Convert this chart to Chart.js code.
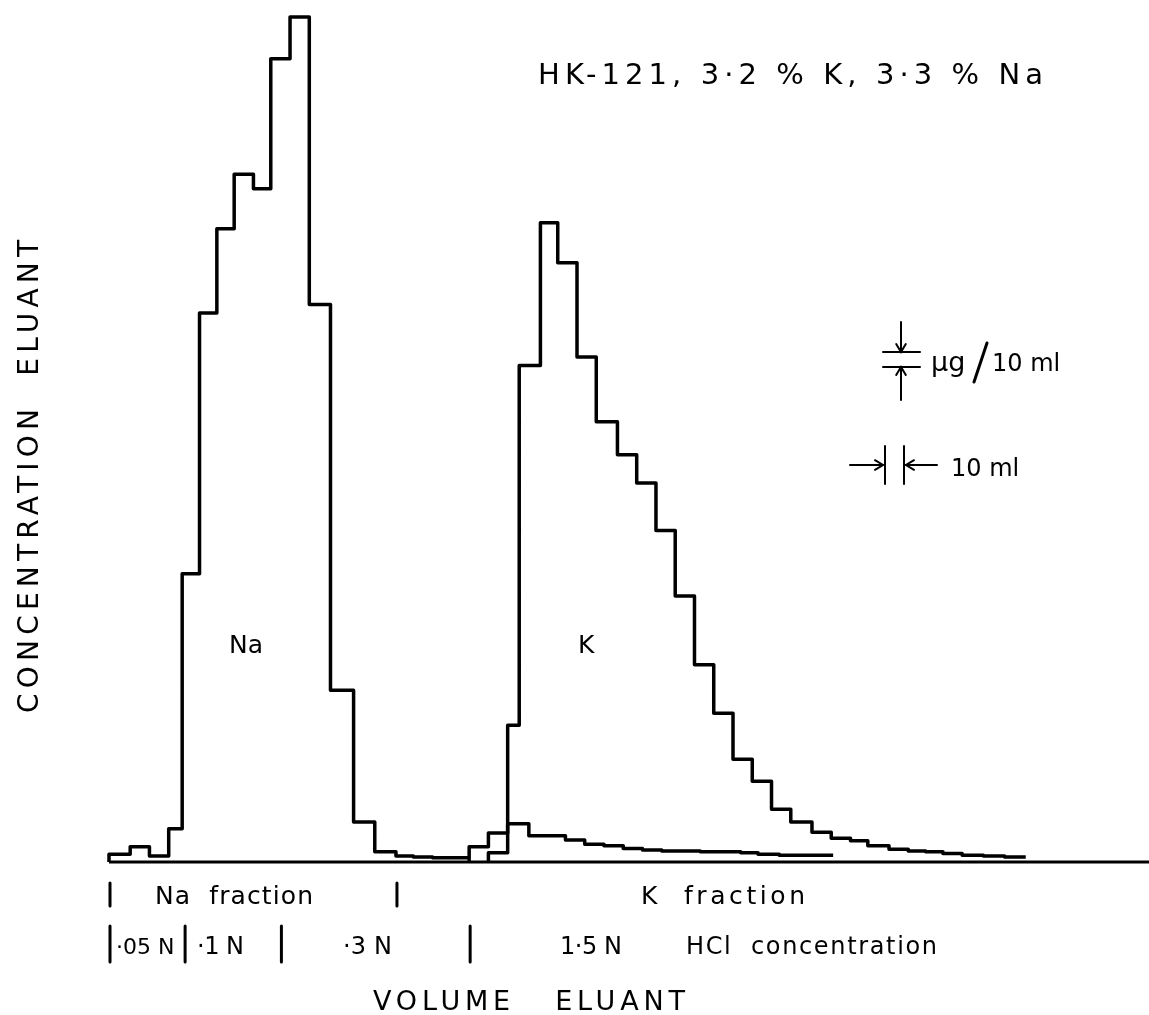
<!DOCTYPE html>
<html>
<head>
<meta charset="utf-8">
<script src="https://cdn.jsdelivr.net/npm/chart.js@4.4.1/dist/chart.umd.min.js"></script>
<style>
  html, body { margin: 0; padding: 0; background: #fff; }
  canvas { display: block; }
</style>
</head>
<body>
<canvas id="elution" width="1149" height="1015"></canvas>
<script>
// Fraction boundaries (ml of eluant) and concentration of each fraction
const naEdges = [0, 11, 21, 31, 38, 47, 56, 65, 75, 84, 94, 104, 115, 127, 138, 149, 158, 168, 178, 187];
const naLevels = [0.9, 1.8, 0.7, 3.9, 33.9, 64.6, 74.5, 80.9, 79.2, 94.5, 99.4, 65.6, 20.2, 4.7, 1.2, 0.7, 0.6, 0.5, 0.5];

const kEdges = [187, 197, 207, 213, 224, 233, 243, 253, 264, 274, 284, 294, 304, 314, 324,
  334, 344, 354, 365, 375, 385, 394, 405, 415, 424, 433, 443, 454, 465, 476];
const kLevels = [1.8, 3.4, 16.1, 58.4, 75.2, 70.5, 59.4, 51.8, 47.9, 44.6, 39.0, 31.3, 23.2, 17.5,
  12.1, 9.5, 6.2, 4.7, 3.5, 2.8, 2.5, 1.9, 1.5, 1.3, 1.2, 1.0, 0.8, 0.7, 0.6];

// Na carried over into the K fraction
const tailEdges = [197, 207, 218, 227, 237, 247, 257, 267, 277, 287, 298, 307, 317, 328, 337, 348, 358, 368, 376];
const tailLevels = [1.1, 4.5, 3.1, 3.1, 2.6, 2.1, 1.9, 1.6, 1.4, 1.3, 1.3, 1.2, 1.2, 1.1, 0.9, 0.8, 0.8, 0.8];

// acid strength changes and collected fractions along the volume axis (ml)
const hclBounds = [0, 39, 89, 187];
const hclLabels = ['·05 N', '·1 N', '·3 N', '1·5 N'];
const fractionBounds = [0, 149];

const FONT = '"DejaVu Sans", sans-serif';

// histogram outline: rises from the axis, then one flat step per fraction
function stepPoints(edges, levels) {
  const pts = [{ x: edges[0], y: 0 }];
  levels.forEach((v, i) => pts.push({ x: edges[i], y: v }));
  pts.push({ x: edges[edges.length - 1], y: levels[levels.length - 1] });
  return pts;
}

function trace(data, width) {
  return {
    data,
    showLine: true,
    stepped: 'before',
    borderColor: '#000',
    borderWidth: width || 3.5,
    borderJoinStyle: 'round',
    pointRadius: 0,
    fill: false,
    clip: false
  };
}

// letter-spaced lettering; width 0 keeps the natural spacing
function spaced(ctx, text, x, y, width, size) {
  ctx.font = size + 'px ' + FONT;
  ctx.letterSpacing = '0px';
  const w = ctx.measureText(text).width;
  const gap = text.length > 1 && width ? (width - w) / (text.length - 1) : 0;
  ctx.letterSpacing = gap + 'px';
  ctx.fillText(text, x, y);
  ctx.letterSpacing = '0px';
}

function line(ctx, x1, y1, x2, y2) {
  ctx.beginPath();
  ctx.moveTo(x1, y1);
  ctx.lineTo(x2, y2);
  ctx.stroke();
}

function arrowHead(ctx, x, y, dx, dy) {
  // small open head pointing along (dx, dy)
  const s = 8;
  ctx.beginPath();
  ctx.moveTo(x - dx * s + dy * s * 0.6, y - dy * s + dx * s * 0.6);
  ctx.lineTo(x, y);
  ctx.lineTo(x - dx * s - dy * s * 0.6, y - dy * s - dx * s * 0.6);
  ctx.stroke();
}

const annotations = {
  id: 'annotations',
  afterDraw(chart) {
    const ctx = chart.ctx;
    const xs = chart.scales.x;
    ctx.save();
    ctx.fillStyle = '#000';
    ctx.strokeStyle = '#000';
    ctx.lineCap = 'round';
    ctx.textBaseline = 'alphabetic';
    ctx.textAlign = 'left';

    spaced(ctx, 'HK-121, 3·2 % K, 3·3 % Na', 538, 84, 505, 29);
    spaced(ctx, 'Na', 229, 653, 34, 25);
    spaced(ctx, 'K', 578, 653, 0, 25);

    // concentration scale bar
    ctx.lineWidth = 2;
    line(ctx, 901, 322, 901, 352);
    arrowHead(ctx, 901, 352, 0, 1);
    line(ctx, 883, 352, 920, 352);
    line(ctx, 883, 367, 920, 367);
    line(ctx, 901, 367, 901, 400);
    arrowHead(ctx, 901, 367, 0, -1);
    spaced(ctx, 'µg', 931, 371, 0, 27);
    ctx.lineWidth = 3;
    line(ctx, 974, 382, 987, 343);
    spaced(ctx, '10 ml', 992, 371, 0, 24);

    // volume scale bar
    ctx.lineWidth = 2;
    line(ctx, 850, 465, 883, 465);
    arrowHead(ctx, 883, 465, 1, 0);
    line(ctx, 885, 446, 885, 484);
    line(ctx, 904, 446, 904, 484);
    line(ctx, 937, 465, 906, 465);
    arrowHead(ctx, 906, 465, -1, 0);
    spaced(ctx, '10 ml', 951, 476, 0, 24);

    // fractions collected
    ctx.lineWidth = 3;
    fractionBounds.forEach(v => {
      const px = xs.getPixelForValue(v) + 1;
      line(ctx, px, 883, px, 906);
    });
    spaced(ctx, 'Na  fraction', 155, 904, 158, 25);
    spaced(ctx, 'K  fraction', 641, 904, 164, 25);

    // HCl strength used for each stage
    hclBounds.forEach(v => {
      const px = xs.getPixelForValue(v) + 1;
      line(ctx, px, 926, px, 962);
    });
    const hclLeft = [116, 197, 343, 560];
    const hclWidth = [0, 47, 49, 62];
    hclLabels.forEach((t, i) => spaced(ctx, t, hclLeft[i], 954, hclWidth[i], i === 0 ? 22 : 24));
    spaced(ctx, 'HCl  concentration', 686, 954, 251, 24);

    spaced(ctx, 'VOLUME   ELUANT', 373, 1010, 312, 27);

    // vertical axis title
    ctx.translate(38, 713);
    ctx.rotate(-Math.PI / 2);
    spaced(ctx, 'CONCENTRATION  ELUANT', 0, 0, 473, 28);
    ctx.restore();
  }
};

new Chart(document.getElementById('elution'), {
  type: 'scatter',
  data: {
    datasets: [
      trace([{ x: 0, y: 0 }, { x: 540, y: 0 }], 3),
      trace(stepPoints(naEdges, naLevels)),
      trace(stepPoints(kEdges, kLevels)),
      trace(stepPoints(tailEdges, tailLevels))
    ]
  },
  options: {
    responsive: false,
    animation: false,
    layout: { padding: { left: 109, right: 0, top: 12, bottom: 153 } },
    scales: {
      x: { type: 'linear', min: 0, max: 540, display: false },
      y: { type: 'linear', min: 0, max: 100, display: false }
    },
    plugins: { legend: { display: false }, tooltip: { enabled: false } }
  },
  plugins: [annotations]
});
</script>
</body>
</html>
